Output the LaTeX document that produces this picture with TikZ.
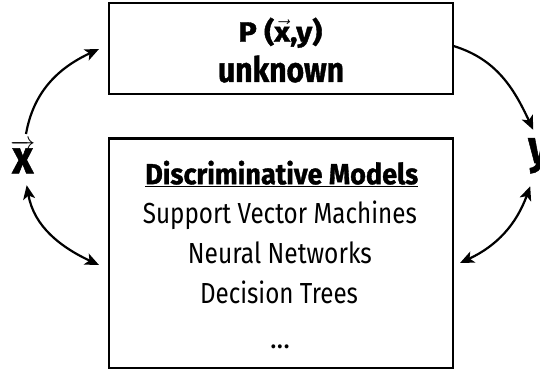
\documentclass[tikz,border=0pt]{standalone}
\usepackage{fontspec}
\setmainfont{Fira Sans}[BoldFeatures={FakeBold=1.2}]
\usepackage{graphicx}
\usetikzlibrary{arrows.meta}
\begin{document}
\begin{tikzpicture}[x=1pt,y=1pt,
  box/.style={draw, line width=2pt, rectangle, inner sep=0pt},
  txt/.style={anchor=base, inner sep=0pt},
  conn/.style={line width=2.2pt, -{Stealth[length=14pt,width=12pt,inset=3.5pt]}},
  conntwo/.style={line width=2.2pt, {Stealth[length=14pt,width=12pt,inset=3.5pt]}-{Stealth[length=14pt,width=12pt,inset=3.5pt]}},
  body/.style={font=\fontsize{29}{32}\selectfont},
  bodyb/.style={font=\fontsize{29}{32}\selectfont\bfseries},
]
\useasboundingbox (0,0) rectangle (540,370);
\node[box, minimum width=343.5pt, minimum height=91pt] (top) at (280.75,321) {};
\node[box, minimum width=343.5pt, minimum height=229pt] (bot) at (280.75,117) {};

\node[txt, font=\fontsize{28}{30}\selectfont\bfseries] (pxy) at (280.3,328.3) {\resizebox{84pt}{\height}{P ($\vec{\hbox{x}}$,y)}};
\node[txt, font=\fontsize{35}{40}\selectfont\bfseries] (unk) at (281,288) {\resizebox{126pt}{\height}{unknown}};

\node[txt, bodyb] (dm) at (281.7,185.8) {\resizebox{273pt}{\height}{\underline{Discriminative Models}}};
\node[txt, body] (svm) at (279.9,146.5) {\resizebox{274pt}{\height}{Support Vector Machines}};
\node[txt, body] (nn) at (279.9,106.5) {\resizebox{184pt}{\height}{Neural Networks}};
\node[txt, body] (dt) at (279,66.5) {\resizebox{158pt}{\height}{Decision Trees}};
\node[txt, body] (dots) at (280,21.5) {\resizebox{20pt}{\height}{...}};

\node[txt, font=\fontsize{47}{50}\selectfont\bfseries] (xl) at (22.8,196.7) {$\overrightarrow{\hbox{\resizebox{21pt}{\height}{x}}}$};
\node[txt, anchor=base west, font=\fontsize{47}{50}\selectfont\bfseries] (yl) at (528,207) {\resizebox{21pt}{\height}{y}};

\draw[conn] ([xshift=3.2pt,yshift=6pt]xl.north) to[out=80,in=205] ([xshift=-9pt]top.west);
\draw[conntwo] ([xshift=3.9pt,yshift=-11.7pt]xl.south) to[out=-80,in=155] ([xshift=-9pt,yshift=-12pt]bot.west);
\draw[conn] ([yshift=3pt]top.east) to[out=-17,in=115] ([xshift=-5.5pt,yshift=8pt]yl.north);
\draw[conntwo] ([xshift=-8.5pt,yshift=-12.6pt]yl.south) to[out=250,in=25] ([xshift=6.5pt,yshift=-10pt]bot.east);
\end{tikzpicture}
\end{document}
